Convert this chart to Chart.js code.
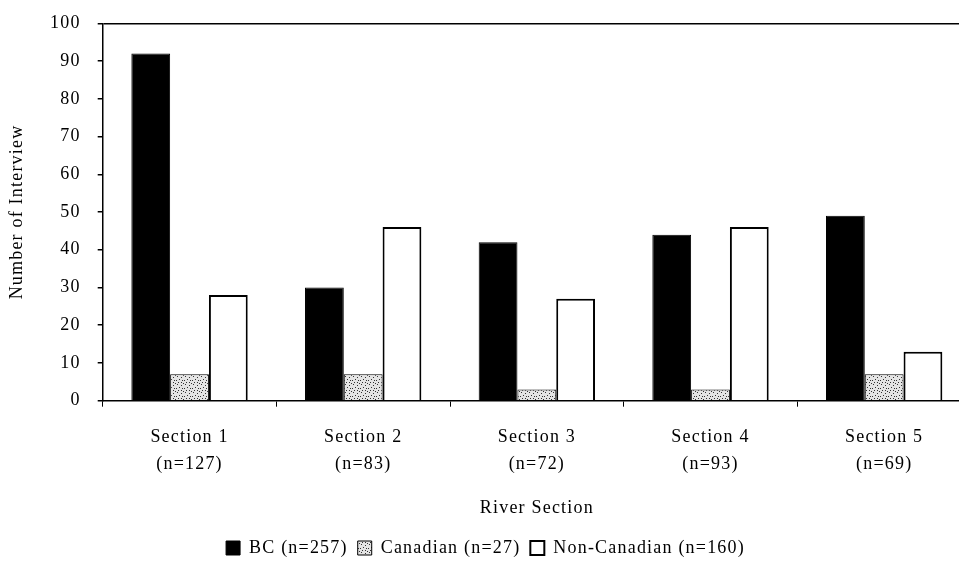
<!DOCTYPE html>
<html>
<head>
<meta charset="utf-8">
<script src="https://cdn.jsdelivr.net/npm/chart.js@4/dist/chart.umd.min.js"></script>
<style>
  html, body { margin: 0; padding: 0; background: #fff; overflow: hidden; }
  #wrap { width: 980px; height: 562px; }
</style>
</head>
<body>
<div id="wrap"><canvas id="riverChart" width="980" height="562"></canvas></div>
<script>
const sections = [['Section 1', '(n=127)'], ['Section 2', '(n=83)'], ['Section 3', '(n=72)'], ['Section 4', '(n=93)'], ['Section 5', '(n=69)']];
const bcValues = [92, 30, 42, 44, 49];
const canadianValues = [7, 7, 3, 3, 7];
const nonCanadianValues = [28, 46, 27, 46, 13];
const seriesLabels = ['BC (n=257)', 'Canadian (n=27)', 'Non-Canadian (n=160)'];

// stipple fill for the Canadian bars
function makeStipple() {
    const c = document.createElement('canvas');
    c.width = 8; c.height = 8;
    const g = c.getContext('2d');
    g.fillStyle = '#e4e4e4';
    g.fillRect(0, 0, 8, 8);
    g.fillStyle = '#333';
    [[1, 0], [5, 1], [3, 3], [0, 4], [6, 4], [2, 6], [5, 6], [7, 7]].forEach(p => g.fillRect(p[0], p[1], 1, 1));
    return g.createPattern(c, 'repeat');
}

// the original uses a spaced-out serif
const spacing = {
    id: 'spacing',
    beforeInit: chart => { chart.ctx.letterSpacing = '1.2px'; },
    beforeLayout: chart => { chart.ctx.letterSpacing = '1.2px'; },
    beforeDraw: chart => { chart.ctx.letterSpacing = '1.2px'; }
};

const font = { family: '"Liberation Serif", "Times New Roman", serif', size: 18, lineHeight: 1.45 };
const tightFont = { family: font.family, size: 18, lineHeight: 1.0 };
const yTickFont = { family: font.family, size: 18, lineHeight: 0.7 };

new Chart(document.getElementById('riverChart').getContext('2d'), {
    type: 'bar',
    data: {
        labels: sections,
        datasets: [
            { label: seriesLabels[0], data: bcValues, backgroundColor: '#000', borderColor: '#000', borderWidth: 1 },
            { label: seriesLabels[1], data: canadianValues, backgroundColor: makeStipple(), borderColor: '#000', borderWidth: 1 },
            { label: seriesLabels[2], data: nonCanadianValues, backgroundColor: '#fff', borderColor: '#000', borderWidth: 2 }
        ]
    },
    options: {
        responsive: false,
        animation: false,
        layout: { padding: { top: 2, left: 0, right: 9, bottom: -5 } },
        datasets: { bar: { categoryPercentage: 0.67, barPercentage: 1.0 } },
        scales: {
            x: {
                offset: true,
                grid: { offset: true, color: 'transparent', tickColor: '#000', tickLength: 6, drawOnChartArea: false },
                border: { color: '#000', width: 1.5 },
                ticks: { color: '#000', font: font, padding: 18 },
                title: { display: true, text: 'River Section', color: '#000', font: font, padding: { top: 0, bottom: 8 } }
            },
            y: {
                min: 0,
                max: 100,
                ticks: { stepSize: 10, color: '#000', font: yTickFont, padding: 17 },
                grid: { color: ctx => ctx.tick && ctx.tick.value === 100 ? '#000' : 'transparent', lineWidth: 1.5, tickColor: '#000', tickLength: 5 },
                border: { color: '#000', width: 1.5 },
                title: { display: true, text: 'Number of Interview', color: '#000', font: font, padding: { top: 4, bottom: 3 } }
            }
        },
        plugins: {
            legend: {
                position: 'bottom',
                labels: { color: '#000', font: tightFont, boxWidth: 14, boxHeight: 14, padding: 10 }
            },
            tooltip: { enabled: false }
        }
    },
    plugins: [spacing]
});
</script>
</body>
</html>
